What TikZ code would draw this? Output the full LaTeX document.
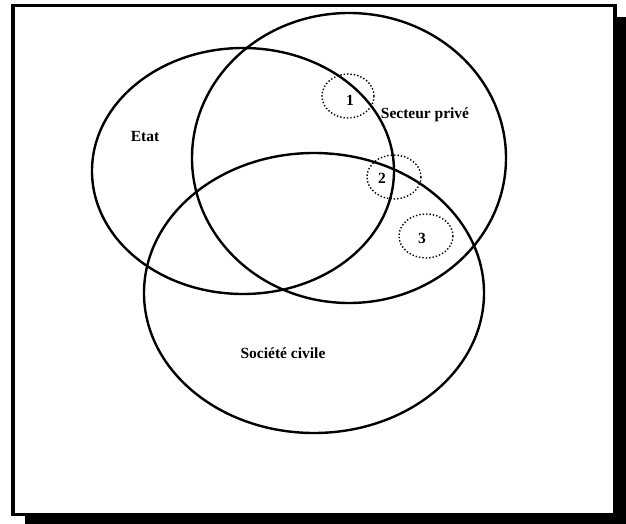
\documentclass[tikz,border=0pt]{standalone}
\usepackage{fontspec}
\setmainfont{Liberation Serif}
\begin{document}
\begin{tikzpicture}[x=1pt,y=-1pt,
  big/.style={draw=black,line width=2.4pt},
  zone/.style={draw=black,line width=1.4pt,dotted},
  lab/.style={font=\fontsize{15.5}{18}\selectfont\bfseries,inner sep=0pt}]
\useasboundingbox (0,0) rectangle (626,524);
% shadow and frame
\fill[black] (25,17) rectangle (626,524);
\draw[fill=white,line width=3.5pt] (13,5.5) rectangle (615,514.5);
% main ellipses
\draw[big] (243,171) ellipse [x radius=151, y radius=123];
\draw[big] (349,158) ellipse [x radius=157, y radius=145];
\draw[big] (314,293) ellipse [x radius=170, y radius=140];
% dotted zones
\draw[zone] (348,96) ellipse [x radius=26, y radius=22];
\draw[zone] (394,177) ellipse [x radius=27, y radius=22];
\draw[zone] (426,236) ellipse [x radius=27, y radius=22];
% labels
\node[lab] (etat) at (145,137) {Etat};
\node[lab] (prive) at (425,115) {Secteur privé};
\node[lab] (civile) at (283,353) {Société civile};
\node[lab] (n1) at (350,100) {1};
\node[lab] (n2) at (382,178) {2};
\node[lab] (n3) at (422,238) {3};
\end{tikzpicture}
\end{document}
